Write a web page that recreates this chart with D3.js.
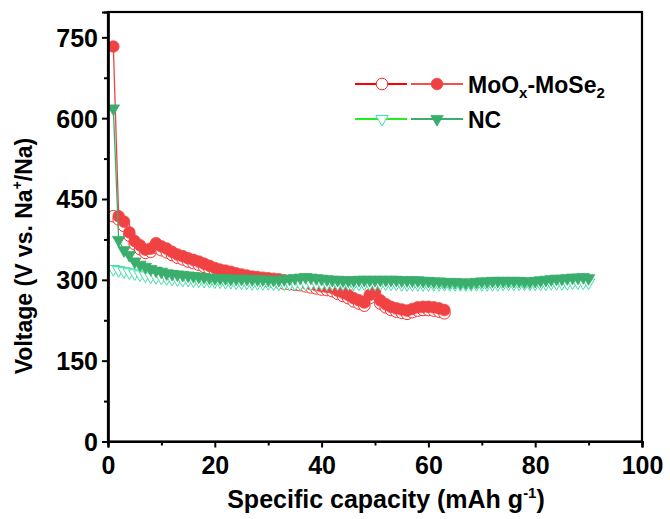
<!DOCTYPE html>
<html>
<head>
<meta charset="utf-8">
<script src="https://cdn.jsdelivr.net/npm/d3@7"></script>
<style>
    body { margin: 0; background: #fff; }
    svg text { font-family: "Liberation Sans", Arial, sans-serif; font-weight: bold; fill: #000; }
</style>
</head>
<body>
<svg id="chart" width="670" height="519"></svg>
<script>
// capacity steps (mAh g-1)
const capMo = d3.range(1, 64);
const capNC = d3.range(1, 91);

// MoOx-MoSe2, filled circles
const moFilled = [733, 418, 408, 388, 372, 364, 356, 358, 368, 362, 358, 352, 347, 344, 340, 337, 334, 330, 326, 322,
    319, 317, 315, 312, 310, 308, 306, 305, 304, 303, 302, 301, 299, 298, 297, 296, 294, 292, 290, 288,
    287, 285, 280, 276, 272, 266, 262, 258, 272, 280, 262, 255, 250, 247, 245, 243, 246, 249, 250, 250,
    249, 247, 244];
// MoOx-MoSe2, open circles
const moOpen = [418, 412, 400, 382, 366, 357, 350, 352, 360, 355, 351, 346, 341, 338, 334, 331, 328, 324, 320, 316,
    313, 311, 309, 306, 304, 302, 300, 299, 298, 297, 296, 295, 293, 292, 291, 290, 288, 286, 284, 282,
    281, 279, 274, 270, 266, 260, 256, 252, 266, 274, 256, 249, 244, 241, 239, 237, 240, 243, 244, 244,
    243, 241, 238];
// NC, filled triangles
const ncFilled = [618, 374, 355, 346, 334, 328, 324, 320, 317, 315, 312, 311, 310, 309, 308, 307, 306, 305, 304, 303,
    303, 303, 302, 302, 302, 302, 301, 301, 301, 300, 300, 300, 301, 302, 303, 304, 305, 304, 303, 302,
    301, 300, 300, 299, 299, 299, 300, 300, 300, 300, 300, 300, 300, 300, 299, 299, 299, 299, 298, 298,
    297, 297, 296, 296, 296, 295, 295, 295, 296, 297, 297, 298, 298, 298, 298, 298, 298, 297, 297, 298,
    299, 300, 301, 302, 302, 303, 304, 304, 305, 303];
// NC, open triangles
const ncOpen = [320, 318, 316, 314, 312, 310, 308, 306, 305, 304, 303, 302, 301, 300, 300, 299, 299, 298, 298, 297,
    297, 296, 296, 295, 295, 295, 294, 294, 294, 294, 293, 293, 293, 293, 293, 293, 293, 293, 293, 293,
    293, 293, 293, 293, 293, 293, 293, 293, 293, 293, 293, 293, 293, 293, 292, 292, 292, 292, 292, 292,
    292, 292, 292, 292, 292, 292, 292, 292, 292, 292, 292, 292, 292, 293, 293, 293, 293, 293, 293, 293,
    293, 293, 294, 294, 294, 294, 295, 295, 295, 295];

const xTicks = [0, 20, 40, 60, 80, 100];
const xMinor = [10, 30, 50, 70, 90];
const yTicks = [0, 150, 300, 450, 600, 750];
const yMinor = [75, 225, 375, 525, 675];

const margin = { top: 12, right: 28, bottom: 77.5, left: 108 };
const svg = d3.select("#chart");
const width = 670 - margin.left - margin.right;
const height = 519 - margin.top - margin.bottom;

const x = d3.scaleLinear().domain([0, 100]).range([0, width]);
const y = d3.scaleLinear().domain([0, 797]).range([height, 0]);

const g = svg.append("g").attr("transform", `translate(${margin.left},${margin.top})`);

const series = [
    { cap: capMo, vals: moOpen, shape: "circle", open: true, color: "#ff2a2a", line: "#ff4040" },
    { cap: capMo, vals: moFilled, shape: "circle", open: false, color: "#f04242", line: "#f04242" },
    { cap: capNC, vals: ncOpen, shape: "tri", open: true, color: "#3fe0a8", line: "#3fe0a8" },
    { cap: capNC, vals: ncFilled, shape: "tri", open: false, color: "#3aae6c", line: "#3aae6c" },
];

const triPath = d3.symbol().type(d3.symbolTriangle).size(66)();

function drawMarker(sel, s) {
    if (s.shape === "circle") {
        sel.append("circle").attr("r", 5.8);
    } else {
        sel.append("path").attr("d", triPath).attr("transform", "rotate(180)");
    }
    sel.selectAll("circle,path")
        .attr("fill", s.open ? "#fff" : s.color)
        .attr("stroke", s.color)
        .attr("stroke-width", s.open ? 1 : 0.8);
}

series.forEach((s) => {
    const pts = s.cap.map((c, i) => [c, s.vals[i]]);
    g.append("path")
        .datum(pts)
        .attr("fill", "none")
        .attr("stroke", s.line)
        .attr("stroke-width", 1.3)
        .attr("d", d3.line().x((d) => x(d[0])).y((d) => y(d[1])));

    g.append("g").selectAll("g")
        .data(pts)
        .enter()
        .append("g")
        .attr("transform", (d) => `translate(${x(d[0])},${y(d[1])})`)
        .each(function () { drawMarker(d3.select(this), s); });
});

// frame
g.append("rect")
    .attr("width", width).attr("height", height)
    .attr("fill", "none").attr("stroke", "#000").attr("stroke-width", 2.2);

// axes
const xAxis = g.append("g").attr("transform", `translate(0,${height})`)
    .call(d3.axisBottom(x).tickValues(xTicks).tickSize(6).tickFormat(d3.format("d")));
g.append("g").attr("transform", `translate(0,${height})`)
    .call(d3.axisBottom(x).tickValues(xMinor).tickSize(4).tickFormat(""));
const yAxis = g.append("g")
    .call(d3.axisLeft(y).tickValues(yTicks).tickSize(6).tickFormat(d3.format("d")));
g.append("g")
    .call(d3.axisLeft(y).tickValues(yMinor).tickSize(4).tickFormat(""));

g.selectAll(".domain").attr("stroke", "#000").attr("stroke-width", 2.2);
g.selectAll(".tick line").attr("stroke", "#000").attr("stroke-width", 2);
xAxis.selectAll("text").attr("font-size", 25).attr("dy", "0.95em").attr("y", 9);
yAxis.selectAll("text").attr("font-size", 25).attr("x", -10).attr("dy", "0.36em");

// axis titles
svg.append("text")
    .attr("x", 386)
    .attr("y", 508)
    .attr("text-anchor", "middle")
    .attr("font-size", 25)
    .call((t) => {
        t.append("tspan").text("Specific capacity (mAh g");
        t.append("tspan").attr("font-size", 15).attr("dy", -10).text("-1");
        t.append("tspan").attr("dy", 10).text(")");
    });

svg.append("text")
    .attr("transform", `translate(32,256) rotate(-90)`)
    .attr("text-anchor", "middle")
    .attr("font-size", 23)
    .call((t) => {
        t.append("tspan").text("Voltage (V vs. Na");
        t.append("tspan").attr("font-size", 14).attr("dy", -10).text("+");
        t.append("tspan").attr("dy", 10).text("/Na)");
    });

// legend
const legend = svg.append("g");
const legendRows = [
    { y: 84, sOpen: series[0], sFill: series[1], lineOpen: "#ff0000", lineFill: "#f05050", label: "mo" },
    { y: 119, sOpen: series[2], sFill: series[3], lineOpen: "#22ee22", lineFill: "#3aae6c", label: "NC" },
];
legendRows.forEach((r) => {
    const row = legend.append("g").attr("transform", `translate(0,${r.y})`);
    row.append("line").attr("x1", 355).attr("x2", 407).attr("stroke", r.lineOpen).attr("stroke-width", 2);
    row.append("line").attr("x1", 411).attr("x2", 463).attr("stroke", r.lineFill).attr("stroke-width", 2);
    drawMarker(row.append("g").attr("transform", "translate(382,0)"), r.sOpen);
    drawMarker(row.append("g").attr("transform", "translate(437,0)"), r.sFill);
    const t = row.append("text").attr("x", 468).attr("y", 8.5).attr("font-size", 23);
    if (r.label === "mo") {
        t.append("tspan").text("MoO");
        t.append("tspan").attr("font-size", 15).attr("dy", 5).text("x");
        t.append("tspan").attr("dy", -5).text("-MoSe");
        t.append("tspan").attr("font-size", 15).attr("dy", 5).text("2");
    } else {
        t.text("NC");
    }
});
</script>
</body>
</html>
